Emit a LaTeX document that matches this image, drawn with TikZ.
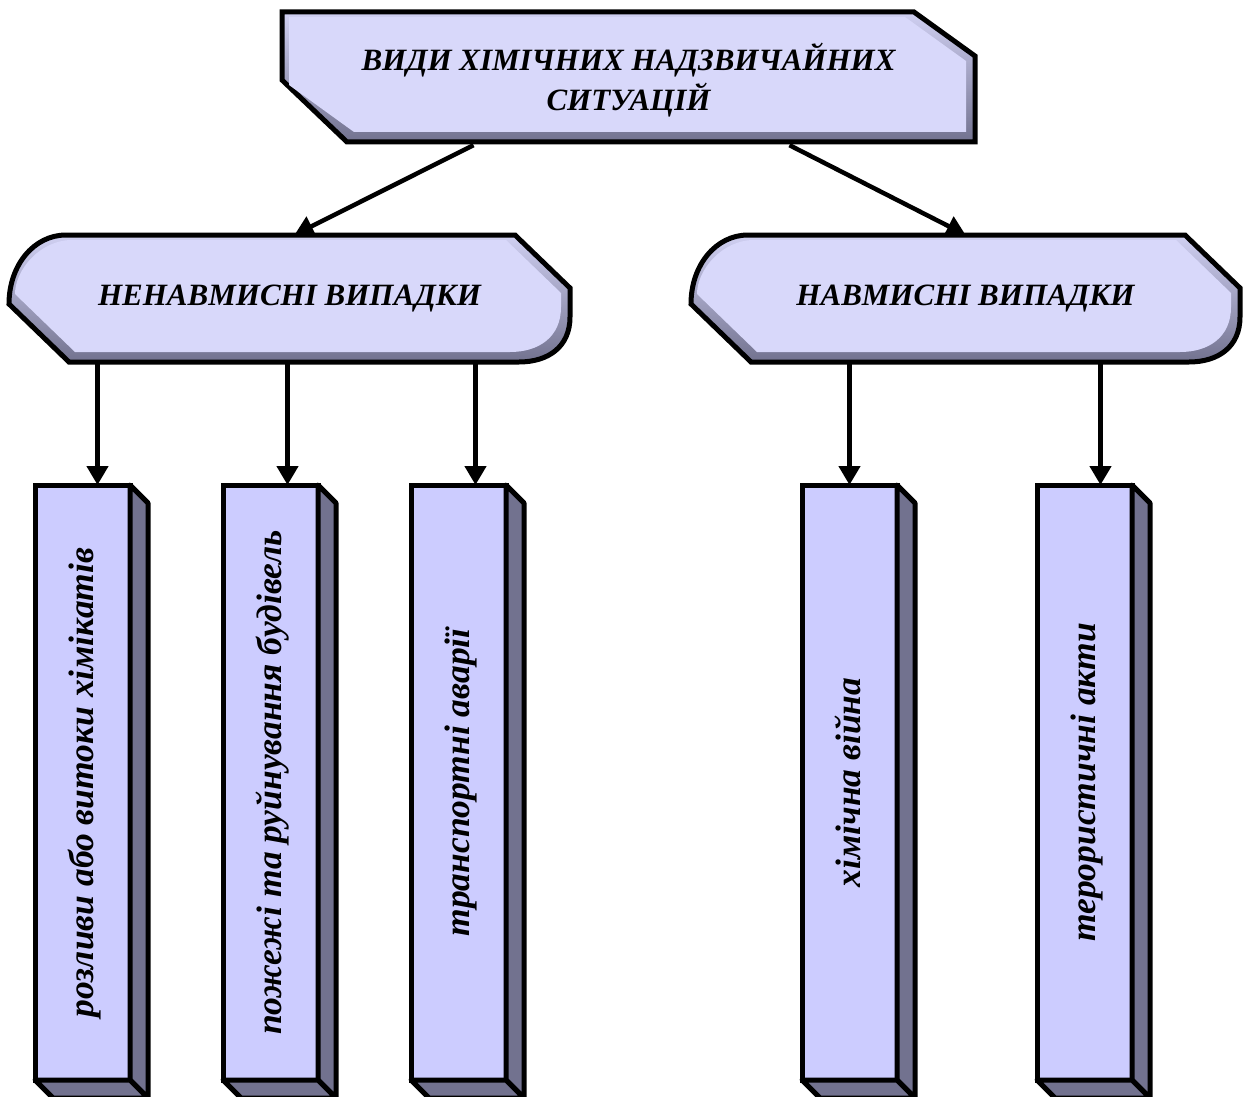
\documentclass[tikz,border=0pt]{standalone}
\usepackage{fontspec}
\setmainfont{Liberation Serif}
\usepackage{graphicx}
\usetikzlibrary{arrows.meta,positioning}
\definecolor{ink}{HTML}{000000}
\definecolor{face}{HTML}{CCCCFF}
\definecolor{pale}{HTML}{D8D8FA}
\definecolor{dusk}{HTML}{72728F}
\definecolor{glow}{HTML}{D0D0F2}
\tikzset{
  flow/.style={-{Triangle[length=19pt,width=21pt]},line width=4.5pt,draw=ink},
  caption/.style={align=center,inner sep=0pt,
                  font=\fontsize{31}{40}\selectfont\bfseries\itshape},
  headbox/.style={caption,minimum width=693pt,minimum height=130pt},
  sidebox/.style={caption,minimum height=127pt},
  pillar/.style={draw=ink,line width=5pt,fill=face,outer sep=0pt,inner sep=0pt,
                 minimum width=95pt,minimum height=595pt,
                 font=\fontsize{35.5}{40}\selectfont\bfseries\itshape},
  rim/.style={draw=ink,line width=5pt,top color=glow,bottom color=dusk},
  core/.style={fill=pale},
  depth/.style={draw=ink,line width=5pt,line join=round,fill=dusk},
}
% #1 style, then left, top, right, bottom
\newcommand\headshape[5]{%
  \path[#1] (#2,#3) -- ({#4-61},#3) -- (#4,{#3+44}) -- (#4,#5)
    -- ({#2+65},#5) -- (#2,{#3+68}) -- cycle;}
\newcommand\sideshape[5]{%
  \path[#1] ({#2+57},#3) -- ({#4-55},#3) -- (#4,{#3+53}) -- (#4,{#5-45})
    .. controls (#4,{#5-15}) and ({#4-22},#5) .. ({#4-51},#5)
    -- ({#2+60},#5) -- (#2,{#5-58})
    .. controls (#2,{#3+30}) and ({#2+25},#3) .. ({#2+57},#3) -- cycle;}
% rotated pillar text, baseline pushed to the right
\newcommand\upright[1]{\rotatebox{90}{\raisebox{-10.5pt}[0pt][0pt]{#1}}}

\begin{document}
\begin{tikzpicture}[x=1pt,y=-1pt]
  \useasboundingbox (0,0) rectangle (1243,1097);
  % bevelled header shapes
  \headshape{rim}{282}{12}{975}{142}
  \headshape{core}{289}{17}{966}{132}
  \sideshape{rim}{9}{235}{570}{362}
  \sideshape{core}{15}{240}{561}{352}
  \sideshape{rim}{691}{235}{1240}{362}
  \sideshape{core}{697}{240}{1231}{352}

  \node[headbox] (kinds) at (628.5,80) {ВИДИ ХІМІЧНИХ НАДЗВИЧАЙНИХ\\СИТУАЦІЙ};
  \node[sidebox,minimum width=561pt] (accid) at (289.5,298.5) {НЕНАВМИСНІ ВИПАДКИ};
  \node[sidebox,minimum width=549pt] (delib) at (965.5,298.5) {НАВМИСНІ ВИПАДКИ};

  \node[pillar] (spill) at (82.5,782.5) {\upright{розливи або витоки хімікатів}};
  \node[pillar,right=93pt of spill] (fire) {\upright{пожежі та руйнування будівель}};
  \node[pillar,right=93pt of fire] (transp) {\upright{транспортні аварії}};
  \node[pillar,right=296pt of transp] (war) {\upright{хімічна війна}};
  \node[pillar,right=140pt of war] (terror) {\upright{терористичні акти}};
  \foreach \p in {spill,fire,transp,war,terror}{
    \draw[depth] (\p.north east) -- ++(18,18) -- ++(0,595) -- (\p.south east) -- cycle;
    \draw[depth] (\p.south west) -- (\p.south east) -- ++(18,18) -- ++(-95,0) -- cycle;
  }

  \draw[flow] ([xshift=-155pt]kinds.south) -- ([xshift=5pt]accid.north);
  \draw[flow] ([xshift=161pt]kinds.south) -- (delib.north);
  \draw[flow] ([xshift=15pt]spill.north |- accid.south) -- ([xshift=15pt]spill.north);
  \draw[flow] ([xshift=17pt]fire.north |- accid.south) -- ([xshift=17pt]fire.north);
  \draw[flow] ([xshift=17pt]transp.north |- accid.south) -- ([xshift=17pt]transp.north);
  \draw[flow] (war.north |- delib.south) -- (war.north);
  \draw[flow] ([xshift=16pt]terror.north |- delib.south) -- ([xshift=16pt]terror.north);
\end{tikzpicture}
\end{document}
